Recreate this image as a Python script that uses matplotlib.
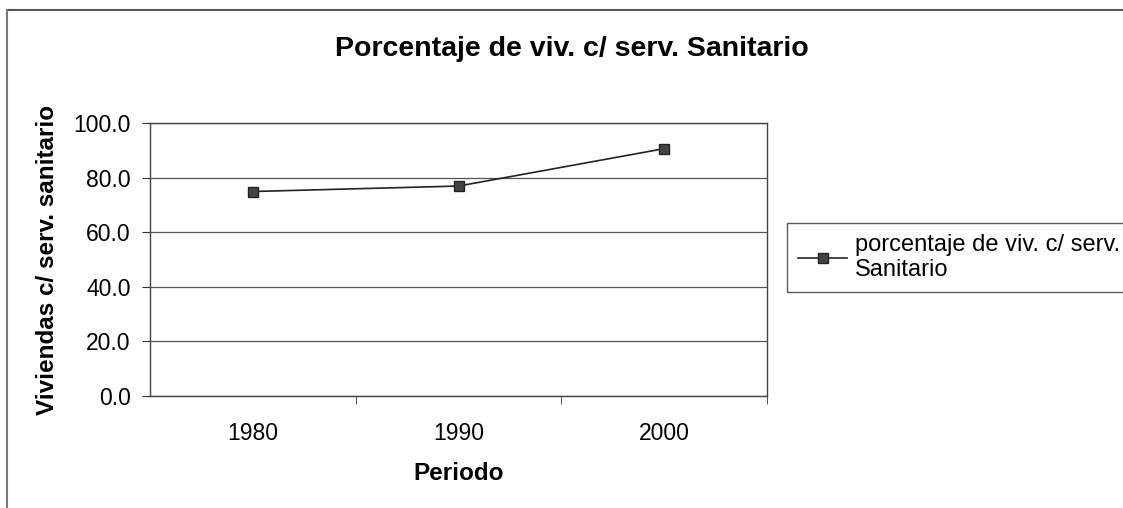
import matplotlib.pyplot as plt
from matplotlib.lines import Line2D

plt.rcParams['font.family'] = ['Liberation Sans', 'DejaVu Sans']

# data
periodos = ['1980', '1990', '2000']
porcentaje = [74.9, 76.9, 90.6]
yticks = [0, 20, 40, 60, 80, 100]

fig = plt.figure(figsize=(11.23, 5.08), dpi=100)
ax = fig.add_axes([0.1336, 0.2205, 0.5494, 0.5374])

x = range(len(periodos))
ax.plot(x, porcentaje, color='#222222', lw=1.2, marker='s', markersize=6.5,
        markerfacecolor='#444444', markeredgecolor='#222222',
        label='porcentaje de viv. c/ serv.\nSanitario')

ax.set_xlim(-0.5, 2.5)
ax.set_ylim(0, 100)
ax.set_yticks(yticks)
ax.set_yticklabels(['%.1f' % v for v in yticks], fontsize=16.5)
ax.set_xticks(x)
ax.set_xticklabels(periodos, fontsize=16.5)
ax.tick_params(axis='x', length=0, pad=19)
ax.set_xticks([0.5, 1.5, 2.5], minor=True)
ax.tick_params(axis='x', which='minor', length=6, direction='out', color='#333333')
ax.tick_params(axis='y', length=6, direction='out', color='#333333', pad=8)
ax.grid(axis='y', color='#555555', lw=0.9)
ax.set_axisbelow(True)
for s in ax.spines.values():
    s.set_color('#444444')
    s.set_linewidth(1.0)

ax.set_xlabel('Periodo', fontsize=17.5, fontweight='bold', labelpad=12)
ax.set_ylabel('Viviendas c/ serv. sanitario', fontsize=17.5, fontweight='bold', labelpad=10)

fig.text(0.509, 0.904, 'Porcentaje de viv. c/ serv. Sanitario', ha='center', va='center',
         fontsize=20.5, fontweight='bold')

leg = fig.legend(loc='upper left', bbox_to_anchor=(0.701, 0.561), fontsize=17,
                 fancybox=False, frameon=True, handlelength=2.1, borderpad=0.45,
                 handletextpad=0.33, labelspacing=0.2, borderaxespad=0)
leg.get_frame().set_edgecolor('#333333')
leg.get_frame().set_linewidth(1.0)

# outer chart border (only top and left visible in the scan)
fig.add_artist(Line2D([0.0062, 1.0], [0.980, 0.980], transform=fig.transFigure,
                      color='#555555', lw=1.5))
fig.add_artist(Line2D([0.0062, 0.0062], [0.0, 0.980], transform=fig.transFigure,
                      color='#777777', lw=1.5))

fig.savefig('out.png', dpi=100)
